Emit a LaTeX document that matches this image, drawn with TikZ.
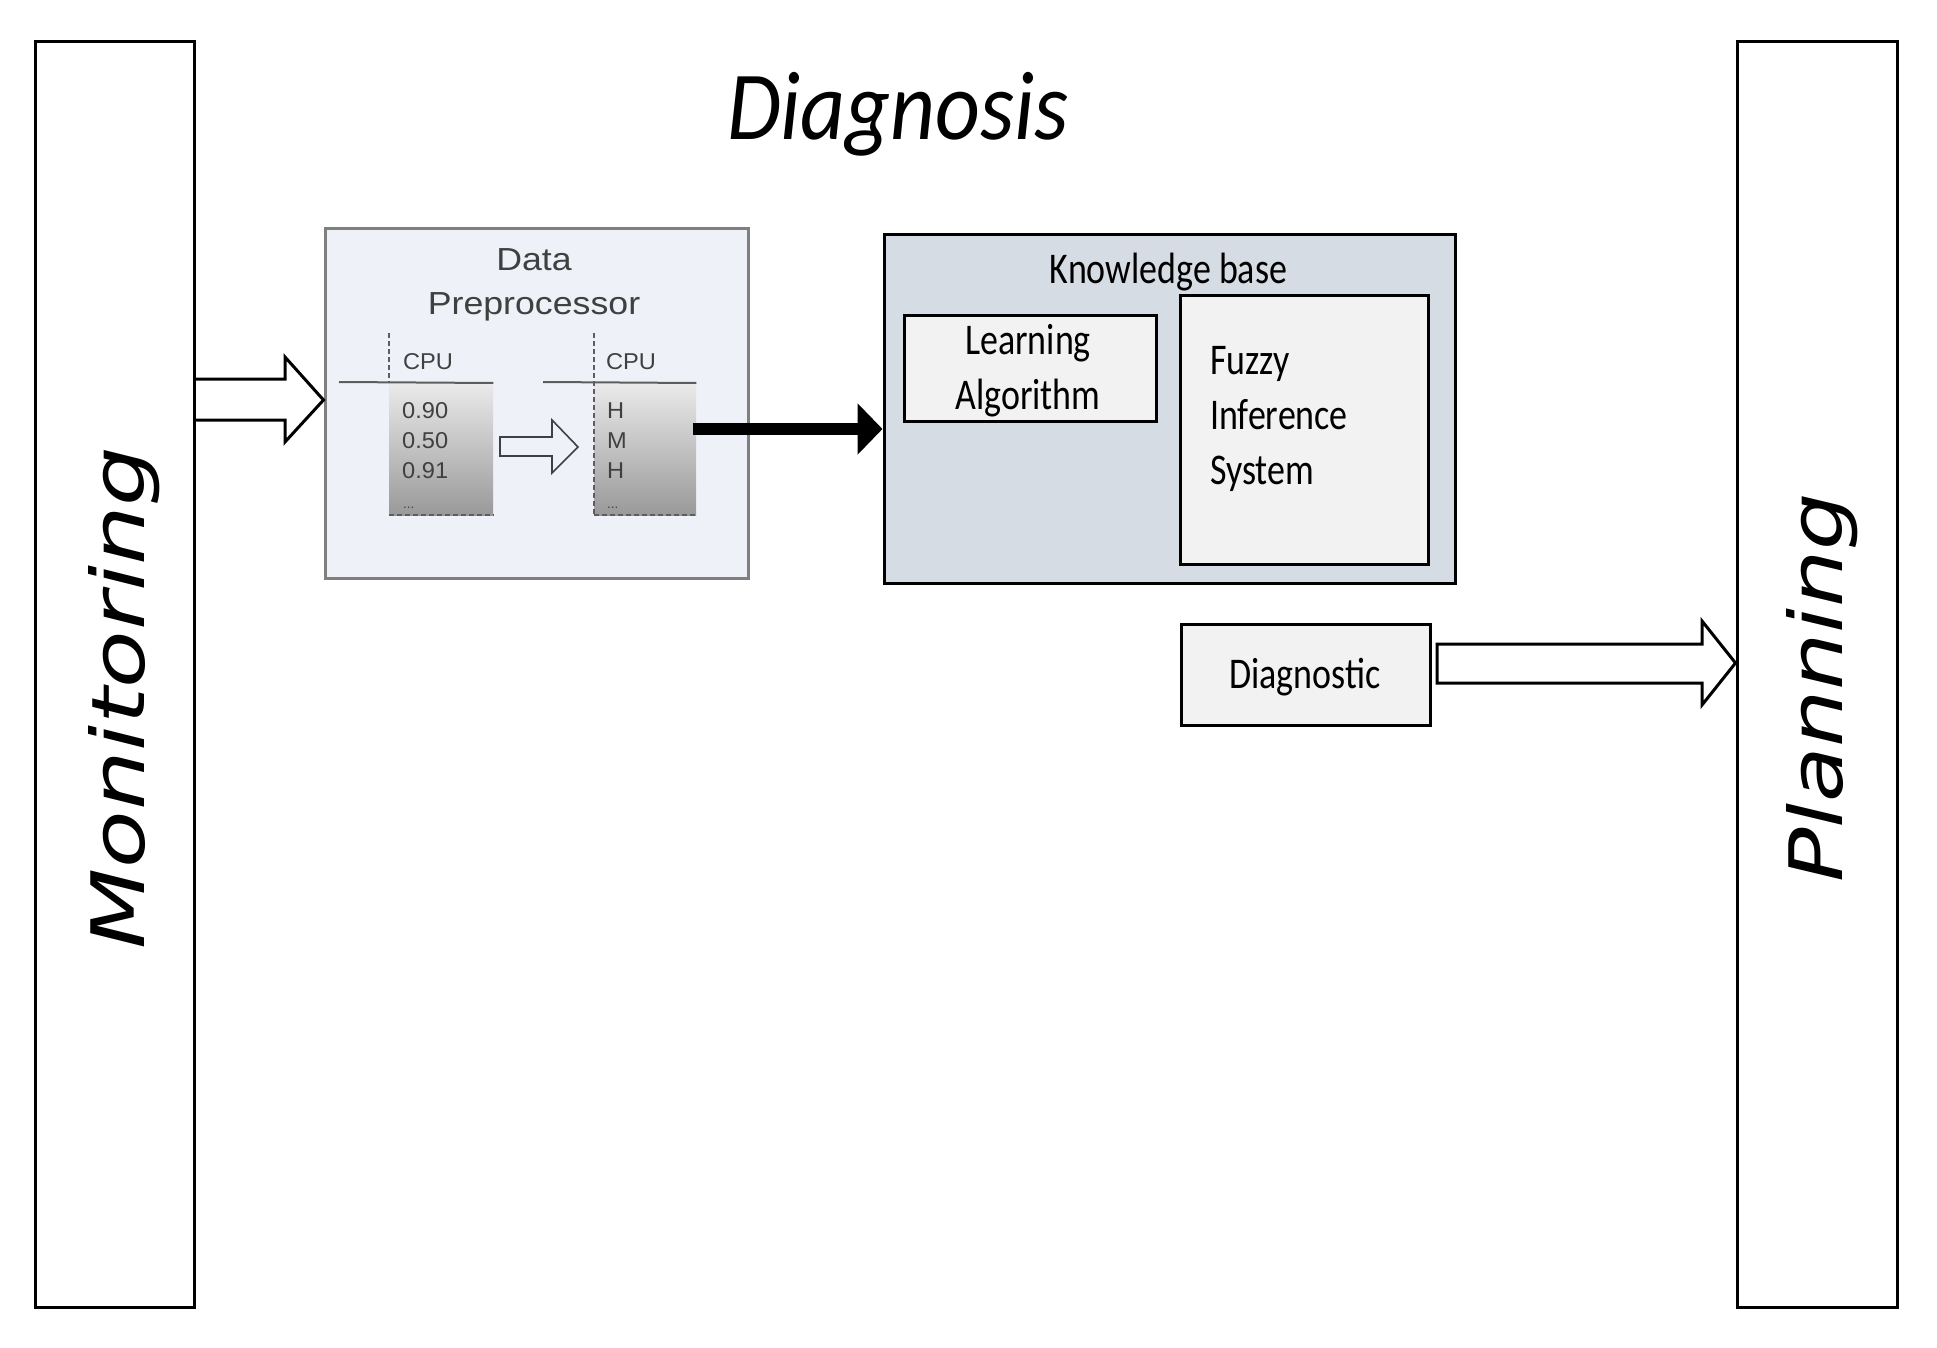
\documentclass[tikz,border=0pt]{standalone}
\usepackage{fontspec}
\setmainfont{Carlito}
\newfontfamily\calfont[FakeStretch=0.82]{Carlito}
\newfontfamily\calitfont[FakeStretch=0.896]{Carlito}
\newfontfamily\monfont[FakeStretch=1.276]{DejaVu Sans}
\newfontfamily\planfont[FakeStretch=1.225]{DejaVu Sans}
\newfontfamily\afont[FakeStretch=1.12]{Liberation Sans}
\newfontfamily\asmallfont[FakeStretch=1.03]{Liberation Sans}
\usetikzlibrary{arrows.meta}
\definecolor{kbfill}{HTML}{D6DCE4}
\definecolor{boxfill}{HTML}{F2F2F2}
\definecolor{dpfill}{HTML}{EEF2F8}
\definecolor{dpline}{HTML}{7F7F7F}
\definecolor{dptext}{HTML}{404040}
\definecolor{gtop}{HTML}{EAEAEA}
\definecolor{gbot}{HTML}{999999}
\begin{document}
\begin{tikzpicture}[x=1bp,y=-1bp,
  box/.style={draw=black, line width=3bp, inner sep=0pt, anchor=north west},
  sidebox/.style={box, fill=white},
  kbbox/.style={box, fill=kbfill},
  innerbox/.style={box, fill=boxfill},
  dpbox/.style={draw=dpline, line width=3bp, fill=dpfill, inner sep=0pt, anchor=north west},
  hollow/.style={draw=black, line width=3bp, line join=miter},
  smallhollow/.style={draw=dptext, line width=1.6bp, line join=miter},
  solidarrow/.style={line width=12bp, -{Triangle[length=25bp,width=50bp]}},
  column/.style={top color=gtop, bottom color=gbot, inner sep=0pt, anchor=north west},
  rule/.style={draw=dptext!85, line width=2bp},
  dashrule/.style={draw=dptext!85, line width=2bp, dash pattern=on 5bp off 3bp},
  kbtext/.style={inner sep=0pt, font=\calfont\fontsize{44}{55}\selectfont},
  dptxt/.style={inner sep=0pt, text=dptext, font=\asmallfont\fontsize{23}{30}\selectfont},
  sidetext/.style={inner sep=0pt, rotate=90}
]
\useasboundingbox (0,0) rectangle (1937,1348);

% side boxes
\node[sidebox, minimum width=159bp, minimum height=1265bp] (mon) at (33.5,40.5) {};
\node[sidebox, minimum width=160bp, minimum height=1265bp] (plan) at (1735.5,40.5) {};
\node[sidetext, font=\monfont\itshape\fontsize{74}{80}\selectfont] (montext) at (124,698) {Monitoring};
\node[sidetext, font=\planfont\itshape\fontsize{74}{80}\selectfont] (plantext) at (1822,688) {Planning};

% title
\node[inner sep=0pt, anchor=base, font=\calitfont\itshape\fontsize{98}{110}\selectfont] (title) at (898,140) {Diagnosis};

% data preprocessor
\node[dpbox, minimum width=423bp, minimum height=349bp] (dp) at (323.5,227.5) {};
\node[inner sep=0pt, anchor=base, text=dptext, font=\afont\fontsize{32}{44}\selectfont] (dptitle) at (534,271)
  {\parbox[t]{300bp}{\centering Data\\Preprocessor}};

\node[column, minimum width=104bp, minimum height=132bp] (colL) at (389,383) {};
\node[column, minimum width=102bp, minimum height=132bp] (colR) at (594,383) {};
\draw[rule] (339,382) -- (colL.north east);
\draw[rule] (543,382) -- (colR.north east);
\draw[dashrule] (389,333) -- (colL.north west);
\draw[dashrule] (594,333) -- (colR.south west);
\draw[dashrule] (colL.south west) -- (colL.south east);
\draw[dashrule] (colR.south west) -- (colR.south east);

\node[dptxt, anchor=base west] (cpuL) at (403,370) {CPU};
\node[dptxt, anchor=base west] (cpuR) at (606,370) {CPU};
\node[dptxt, anchor=base west] (vL) at (402,418)
  {\parbox[t]{60bp}{\baselineskip=30bp 0.90\\0.50\\0.91}};
\node[dptxt, anchor=base west] (vR) at (607,418)
  {\parbox[t]{40bp}{\baselineskip=30bp H\\M\\H}};
\node[dptxt, anchor=base west, font=\asmallfont\fontsize{13}{14}\selectfont] (dotsL) at (403,508) {...};
\node[dptxt, anchor=base west, font=\asmallfont\fontsize{13}{14}\selectfont] (dotsR) at (607,508) {...};

\draw[smallhollow] (500,437) -- (552,437) -- (552,420) -- (578,447) -- (552,473) -- (552,456) -- (500,456) -- cycle;

% monitoring -> preprocessor
\draw[hollow] (mon.east |- 0,379) -- (285,379) -- (285,357) -- (dp.west |- 0,400) -- (285,442) -- (285,420) -- (mon.east |- 0,420);

% knowledge base
\node[kbbox, minimum width=571bp, minimum height=348bp] (kb) at (882.5,233.5) {};
\node[kbtext, anchor=base] (kbtitle) at (1168.5,284) {Knowledge base};
\node[innerbox, minimum width=252bp, minimum height=105bp] (la) at (902.5,314.5) {};
\node[kbtext, anchor=base] (latext) at (1028,355) {\parbox[t]{240bp}{\centering Learning\\Algorithm}};
\node[innerbox, minimum width=248bp, minimum height=268bp] (fis) at (1178.5,294.5) {};
\node[kbtext, anchor=base west] (fistext) at (1210,375) {\parbox[t]{210bp}{\raggedright Fuzzy\\Inference\\System}};

% preprocessor -> knowledge base
\draw[solidarrow] (693,429) -- (kb.west |- 0,429);

% diagnostic
\node[innerbox, minimum width=249bp, minimum height=101bp] (diag) at (1180,623) {};
\node[kbtext, anchor=base] (diagtext) at (1305,688) {Diagnostic};

% diagnostic -> planning
\draw[hollow] (1437,644) -- (1702,644) -- (1702,621) -- (plan.west |- 0,663) -- (1702,705) -- (1702,683) -- (1437,683) -- cycle;
\end{tikzpicture}
\end{document}
